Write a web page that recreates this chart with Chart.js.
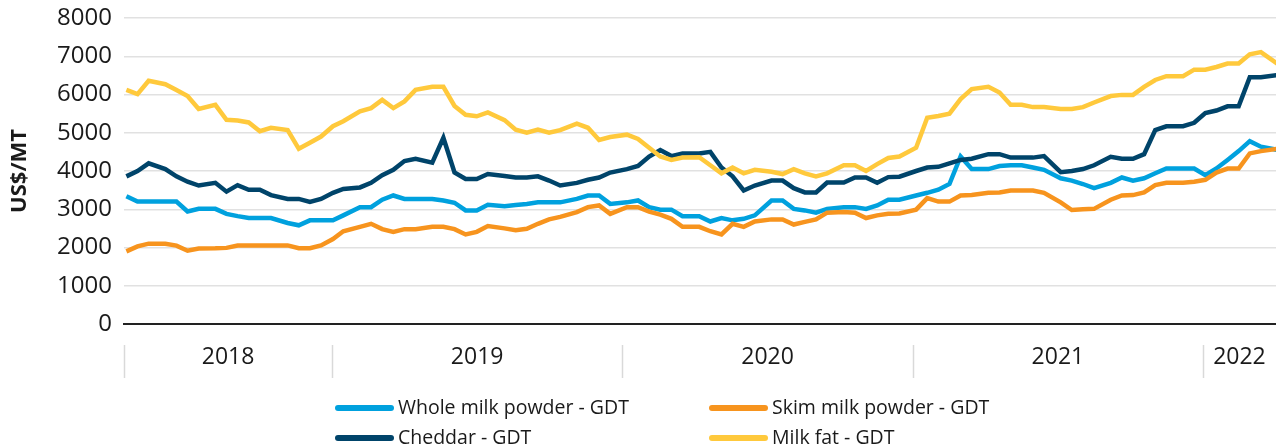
<!DOCTYPE html>
<html>
<head>
<meta charset="utf-8">
<title>GDT dairy prices</title>
<script src="https://cdn.jsdelivr.net/npm/chart.js@4.4.1/dist/chart.umd.min.js"></script>
<style>
    html, body { margin: 0; padding: 0; background: #fff; }
    canvas { display: block; }
</style>
</head>
<body>
<canvas id="gdt-chart" width="1276" height="448"></canvas>
<script>
// GDT auction dates (first and third Tuesday of the month)
const auctionDates = [
    '2018-04-17', '2018-05-01', '2018-05-15', '2018-06-05', '2018-06-19', '2018-07-03', '2018-07-17', '2018-08-07',
    '2018-08-21', '2018-09-04', '2018-09-18', '2018-10-02', '2018-10-16', '2018-11-06', '2018-11-20', '2018-12-04',
    '2018-12-18',
    '2019-01-02', '2019-01-15', '2019-02-05', '2019-02-19', '2019-03-05', '2019-03-19', '2019-04-02', '2019-04-16',
    '2019-05-07', '2019-05-21', '2019-06-04', '2019-06-18', '2019-07-02', '2019-07-16', '2019-08-06', '2019-08-20',
    '2019-09-03', '2019-09-17', '2019-10-01', '2019-10-15', '2019-11-05', '2019-11-19', '2019-12-03', '2019-12-17',
    '2020-01-07', '2020-01-21', '2020-02-04', '2020-02-18', '2020-03-03', '2020-03-17', '2020-04-07', '2020-04-21',
    '2020-05-05', '2020-05-19', '2020-06-02', '2020-06-16', '2020-07-07', '2020-07-21', '2020-08-04', '2020-08-18',
    '2020-09-01', '2020-09-15', '2020-10-06', '2020-10-20', '2020-11-03', '2020-11-17', '2020-12-01', '2020-12-15',
    '2021-01-05', '2021-01-19', '2021-02-02', '2021-02-16', '2021-03-02', '2021-03-16', '2021-04-06', '2021-04-20',
    '2021-05-04', '2021-05-18', '2021-06-01', '2021-06-15', '2021-07-06', '2021-07-20', '2021-08-03', '2021-08-17',
    '2021-09-07', '2021-09-21', '2021-10-05', '2021-10-19', '2021-11-02', '2021-11-16', '2021-12-07', '2021-12-21',
    '2022-01-04', '2022-01-18', '2022-02-01', '2022-02-15', '2022-03-01', '2022-03-15', '2022-04-05'
];

// prices in US$/MT
const wholeMilkPowder = [
    3340, 3200, 3200, 3200, 3200, 2940, 3010, 3010, 2880, 2820, 2770, 2770, 2770, 2640, 2580, 2710, 2710,
    2710, 2840, 3055, 3055, 3250, 3360, 3270, 3270, 3270, 3230, 3170, 2970, 2970, 3115, 3080, 3110, 3140, 3180, 3180, 3180, 3270, 3360, 3360, 3140,
    3180, 3230, 3055, 2990, 2990, 2820, 2820, 2680, 2770, 2710, 2750, 2840, 3230, 3230, 3010, 2970, 2910, 3010, 3055, 3055, 3010, 3100, 3250, 3250,
    3360, 3430, 3510, 3660, 4380, 4050, 4050, 4130, 4150, 4150, 4090, 4030, 3810, 3750, 3660, 3550, 3690, 3830, 3745, 3810, 3940, 4065, 4065, 4065,
    3890, 4065, 4290, 4520, 4780, 4635, 4550
];
const skimMilkPowder = [
    1900, 2030, 2100, 2100, 2050, 1915, 1975, 1980, 1990, 2050, 2055, 2055, 2055, 2055, 1980, 1980, 2055,
    2220, 2425, 2540, 2620, 2480, 2410, 2480, 2480, 2540, 2540, 2480, 2340, 2410, 2560, 2500, 2450, 2490, 2620, 2735, 2800, 2925, 3055, 3100, 2880,
    3055, 3055, 2940, 2860, 2750, 2540, 2540, 2425, 2340, 2620, 2540, 2680, 2735, 2735, 2600, 2670, 2735, 2910, 2925, 2910, 2770, 2840, 2880, 2890,
    2990, 3290, 3200, 3200, 3360, 3370, 3430, 3440, 3490, 3490, 3490, 3430, 3180, 2980, 3000, 3010, 3250, 3360, 3370, 3440, 3630, 3690, 3690, 3720,
    3770, 3960, 4065, 4065, 4460, 4520, 4580
];
const cheddar = [
    3860, 4000, 4200, 4050, 3860, 3720, 3620, 3690, 3460, 3630, 3510, 3510, 3370, 3270, 3270, 3190, 3270,
    3430, 3530, 3570, 3690, 3890, 4030, 4260, 4320, 4220, 4870, 3960, 3790, 3790, 3920, 3870, 3830, 3830, 3860, 3750, 3620, 3690, 3770, 3830, 3960,
    4050, 4130, 4380, 4550, 4390, 4460, 4460, 4500, 4090, 3860, 3490, 3620, 3750, 3750, 3550, 3440, 3440, 3700, 3700, 3830, 3830, 3690, 3840, 3850,
    4000, 4090, 4110, 4200, 4290, 4320, 4440, 4440, 4350, 4350, 4350, 4390, 3970, 4000, 4050, 4150, 4370, 4320, 4320, 4440, 5070, 5170, 5170, 5260,
    5515, 5580, 5690, 5690, 6450, 6450, 6510
];
const milkFat = [
    6120, 6010, 6360, 6270, 6120, 5960, 5620, 5730, 5340, 5320, 5270, 5040, 5130, 5070, 4580, 4740, 4900,
    5170, 5300, 5560, 5645, 5860, 5645, 5820, 6120, 6200, 6200, 5700, 5470, 5430, 5530, 5330, 5080, 5000, 5080, 5000, 5070, 5240, 5130, 4810, 4890,
    4950, 4840, 4610, 4380, 4290, 4350, 4360, 4150, 3940, 4090, 3940, 4030, 3980, 3920, 4050, 3940, 3860, 3940, 4150, 4150, 4000, 4180, 4340, 4380,
    4610, 5390, 5440, 5500, 5880, 6140, 6200, 6050, 5730, 5730, 5670, 5670, 5620, 5620, 5670, 5790, 5960, 5990, 5990, 6200, 6380, 6480, 6480, 6650,
    6650, 6720, 6810, 6810, 7050, 7110, 6800
];

const yearLabels = ['2018', '2019', '2020', '2021', '2022'];
const axisStart = '2018-04-14';
const axisEnd = '2022-04-03';

const toDay = s => Date.parse(s) / 86400000;
const days = auctionDates.map(toDay);
const series = (values) => values.map((v, i) => ({ x: days[i], y: v }));
const yearStarts = yearLabels.slice(1).map(y => toDay(y + '-01-01'));

const textColor = '#1a1a1a';
Chart.defaults.font.family = "'Open Sans', sans-serif";
Chart.defaults.color = textColor;

// year bands under the x axis, split by thin grey dividers
const yearAxis = {
    id: 'yearAxis',
    afterDraw(chart) {
        const { ctx, chartArea, scales: { x } } = chart;
        const edges = [x.min, ...yearStarts, x.max];
        ctx.save();
        ctx.strokeStyle = '#d9d9d9';
        ctx.lineWidth = 1.5;
        edges.slice(0, -1).forEach(v => {
            const px = Math.round(x.getPixelForValue(v)) + 0.5;
            ctx.beginPath();
            ctx.moveTo(px, chartArea.bottom + 21);
            ctx.lineTo(px, chartArea.bottom + 54);
            ctx.stroke();
        });
        ctx.fillStyle = textColor;
        ctx.font = "23px 'Open Sans'";
        ctx.textAlign = 'center';
        ctx.textBaseline = 'middle';
        yearLabels.forEach((label, i) => {
            const mid = (x.getPixelForValue(edges[i]) + x.getPixelForValue(edges[i + 1])) / 2;
            ctx.fillText(label, mid, chartArea.bottom + 33);
        });
        ctx.restore();
    }
};

// two-column legend at the bottom
const gridLegend = {
    id: 'gridLegend',
    afterDraw(chart) {
        const { ctx } = chart;
        const cols = [335, 709];
        const rows = [408, 438];
        ctx.save();
        ctx.font = "19.5px 'Open Sans'";
        ctx.textBaseline = 'middle';
        ctx.fillStyle = textColor;
        chart.data.datasets.forEach((ds, i) => {
            const x0 = cols[i % 2];
            const y0 = rows[Math.floor(i / 2)];
            ctx.strokeStyle = ds.borderColor;
            ctx.lineWidth = 6;
            ctx.lineCap = 'round';
            ctx.beginPath();
            ctx.moveTo(x0 + 3, y0);
            ctx.lineTo(x0 + 56, y0);
            ctx.stroke();
            ctx.fillText(ds.label, x0 + 63, y0);
        });
        ctx.restore();
    }
};

const line = (label, values, color, order) => ({
    label: label,
    data: series(values),
    borderColor: color,
    backgroundColor: color,
    borderWidth: 4.5,
    pointRadius: 0,
    tension: 0,
    fill: false,
    order: order
});

new Chart(document.getElementById('gdt-chart'), {
    type: 'line',
    data: {
        datasets: [
            line('Whole milk powder - GDT', wholeMilkPowder, '#00a1de', 3),
            line('Skim milk powder - GDT', skimMilkPowder, '#f7941e', 2),
            line('Cheddar - GDT', cheddar, '#00446a', 1),
            line('Milk fat - GDT', milkFat, '#ffc93c', 0)
        ]
    },
    options: {
        responsive: false,
        animation: false,
        layout: { padding: { top: 18, right: 0, bottom: 0, left: 0 } },
        plugins: {
            legend: { display: false },
            tooltip: { enabled: false }
        },
        scales: {
            x: {
                type: 'linear',
                min: toDay(axisStart),
                max: toDay(axisEnd),
                ticks: { display: false },
                grid: { display: false, drawTicks: false },
                border: { display: true, color: '#222', width: 2 },
                afterFit: scale => { scale.height = 124; }
            },
            y: {
                min: 0,
                max: 8000,
                ticks: {
                    stepSize: 1000,
                    padding: 12,
                    font: { size: 24 },
                    color: textColor,
                    callback: v => String(v)
                },
                grid: { color: '#e1e1e1', lineWidth: 1.5, drawTicks: false },
                border: { display: false },
                title: {
                    display: true,
                    text: 'US$/MT',
                    color: textColor,
                    font: { size: 22, weight: 'bold' },
                    padding: { top: 7, bottom: 0 }
                },
                afterFit: scale => {
                    scale.width = 124;
                    scale.paddingTop = 0;
                    scale.paddingBottom = 0;
                }
            }
        }
    },
    plugins: [yearAxis, gridLegend]
});
</script>
</body>
</html>
